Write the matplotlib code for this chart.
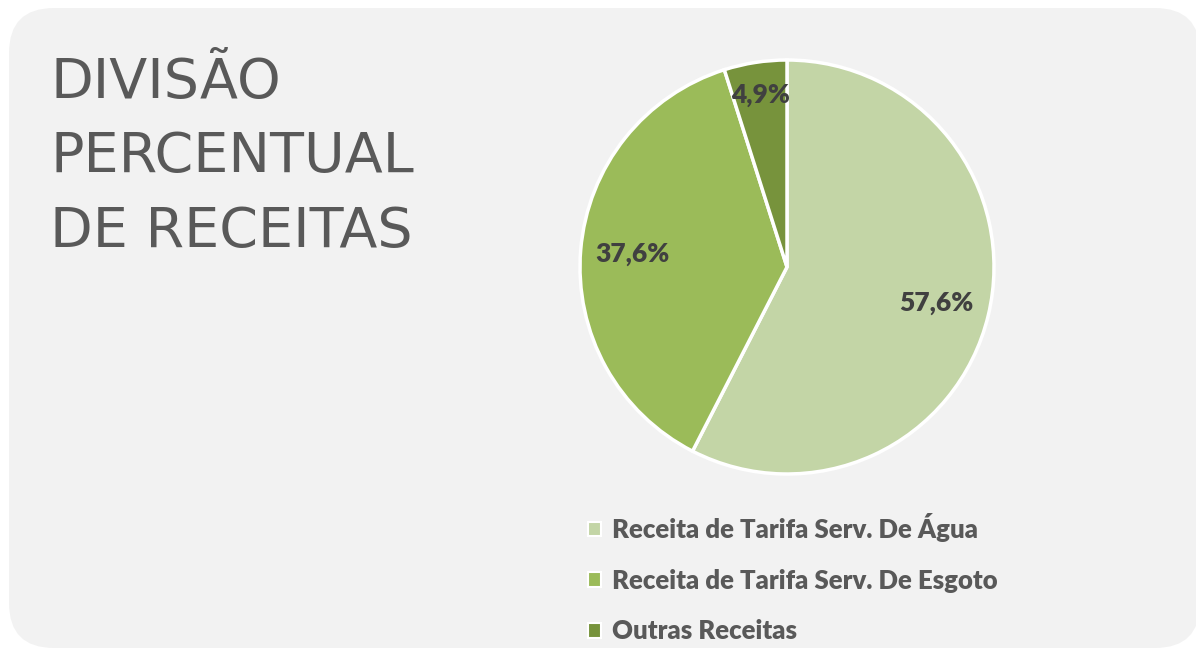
import matplotlib.pyplot as plt
import numpy as np
from matplotlib.patches import FancyBboxPatch

# data
categorias = ['Receita de Tarifa Serv. De Água',
              'Receita de Tarifa Serv. De Esgoto',
              'Outras Receitas']
valores = [57.6, 37.6, 4.9]
rotulos = ['57,6%', '37,6%', '4,9%']
cores = ['#c3d5a6', '#9bbb59', '#77933c']
titulo = ['DIVISÃO', 'PERCENTUAL', 'DE RECEITAS']

W, H = 1196, 650
fig = plt.figure(figsize=(W / 100, H / 100), dpi=100)
fig.patch.set_facecolor('white')

ax = fig.add_axes([0, 0, 1, 1])
ax.set_xlim(0, W)
ax.set_ylim(0, H)
ax.set_aspect('equal')
ax.axis('off')

# rounded background panel
fundo = FancyBboxPatch((9 + 45, 2 + 45), 1200 - 9 - 90, 642 - 2 - 90,
                       boxstyle='round,pad=45', facecolor='#f2f2f2',
                       edgecolor='none', zorder=0)
ax.add_patch(fundo)

# pie
cx, cy, r = 787, H - 267, 207
wedges, _ = ax.pie(valores, colors=cores, startangle=90, counterclock=False,
                   center=(cx, cy), radius=r, normalize=True,
                   wedgeprops=dict(edgecolor='white', linewidth=2.5))
ax.set_xlim(0, W)
ax.set_ylim(0, H)

dist = [0.74, 0.75, 0.84]
for w, txt, d in zip(wedges, rotulos, dist):
    ang = np.deg2rad((w.theta1 + w.theta2) / 2)
    ax.text(cx + d * r * np.cos(ang), cy + d * r * np.sin(ang), txt,
            ha='center', va='center', fontsize=19, fontweight='heavy',
            family='Lato', color='#404040')

# title, one line per text
for i, linha in enumerate(titulo):
    fig.text(50 / W, 1 - (98 + 74.5 * i) / H, linha, ha='left', va='baseline',
             fontsize=40, family='DejaVu Sans', color='#595959')

leg = ax.legend(wedges, categorias, loc='upper left',
                bbox_to_anchor=(588 / W, 1 - 513 / H),
                bbox_transform=fig.transFigure, frameon=False,
                prop=dict(family='Lato', weight='heavy', size=18.5),
                labelcolor='#595959', handlelength=0.5, handleheight=0.5,
                handletextpad=0.45, labelspacing=1.04, borderpad=0,
                borderaxespad=0)
for h in leg.legend_handles:
    h.set_edgecolor('white')
    h.set_linewidth(1.5)

fig.savefig('out.png', dpi=100)
